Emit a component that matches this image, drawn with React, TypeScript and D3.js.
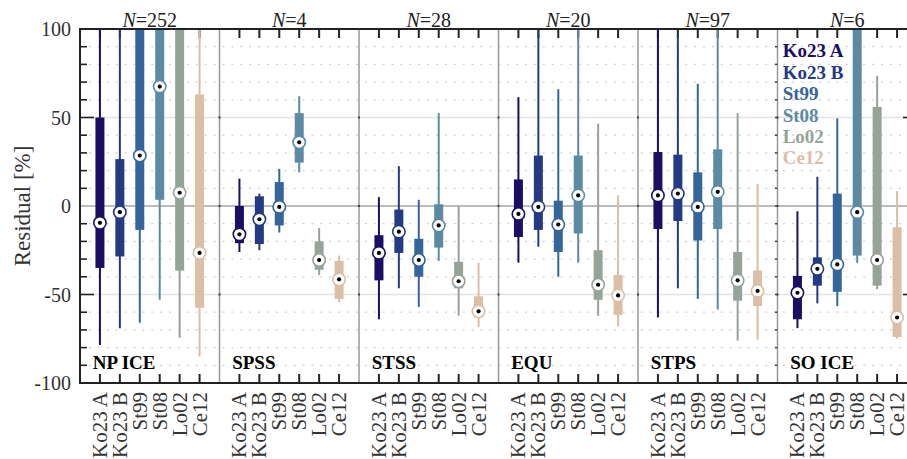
import React from "react";
import * as d3 from "d3";

// Regions (panels) and sample counts
const regions = ["NP ICE", "SPSS", "STSS", "EQU", "STPS", "SO ICE"];
const regionN = [252, 4, 28, 20, 97, 6];

// Model / parameterisation names and colours
const models = ["Ko23 A", "Ko23 B", "St99", "St08", "Lo02", "Ce12"];
const modelColors = ["#1b0f64", "#243a84", "#34669c", "#5b8ba3", "#95a399", "#dbbea6"];

// Residual statistics per model: [whisker low, q1, median, q3, whisker high] (%)
const npIce = [
  [-78.5, -35, -9.5, 50, 140],
  [-69, -28.5, -3.5, 26.5, 130],
  [-66, -13.5, 28.5, 115, 180],
  [-53, 3.5, 67.5, 125, 190],
  [-74.5, -36.5, 7.5, 110, 170],
  [-85, -57.5, -26.5, 63, 100],
];
const spss = [
  [-26, -21, -16, 0, 15.5],
  [-25, -21.5, -7.5, 5.5, 7],
  [-15, -11, -0.5, 13.5, 21],
  [19, 24.5, 36, 52.5, 62],
  [-39, -36, -30.5, -20, -12.5],
  [-54.5, -52.5, -41.5, -31, -28],
];
const stss = [
  [-64, -42, -26.5, -16.5, 5],
  [-46.5, -26.5, -14.5, -2, 22.5],
  [-57, -40, -30.5, -18.5, 3.5],
  [-31, -23.5, -11, 1, 52.5],
  [-62, -46.5, -42.5, -31.5, 0],
  [-68.5, -63, -59.5, -51, -32],
];
const equ = [
  [-32, -17.5, -4.5, 15, 61.5],
  [-23, -13.5, -0.5, 28.5, 130],
  [-40, -26, -10.5, 3, 66],
  [-32, -15.5, 6, 28.5, 140],
  [-62, -53, -44.5, -25, 46.5],
  [-68, -61.5, -50.5, -39, 6],
];
const stps = [
  [-63, -13, 6, 30.5, 150],
  [-46.5, -8.5, 7, 29, 97.5],
  [-52.5, -19.5, -0.5, 19, 69],
  [-58.5, -13, 8, 32, 140],
  [-76, -53.5, -42, -26, 52.5],
  [-75.5, -56.5, -48, -36.5, 12.5],
];
const soIce = [
  [-69, -64, -49, -39.5, -3],
  [-55, -45, -35.5, -29, 16.5],
  [-56.5, -48.5, -33, 7, 49.5],
  [-32, -28, -3.5, 120, 180],
  [-47, -45, -30.5, 56, 73.5],
  [-75, -74, -63, -12, 8.5],
];
const regionStats = [npIce, spss, stss, equ, stps, soIce];

const yMajorTicks = [100, 50, 0, -50, -100];

const W = 907;
const H = 459;
const left = 80;
const right = 917;
const top = 29;
const bottom = 383;
const slots = 7; // 6 models + 1 spacer slot per panel

const serif = "'Liberation Serif', 'Times New Roman', Times, serif";

export default function App() {
  const x = d3.scaleLinear().domain([0, regions.length * slots]).range([left, right]);
  const y = d3.scaleLinear().domain([-100, 100]).range([bottom, top]);
  const minorTicks = d3.range(-90, 100, 10).filter((v) => v % 50 !== 0);
  const allMinor = d3.range(-100, 101, 10);
  const dividers = d3.range(1, regions.length).map((i) => x(i * slots));
  const catX = (p: number, j: number) => x(p * slots + j + 1);

  return (
    <svg
      width={W}
      height={H}
      style={{ position: "absolute", left: 0, top: 0, background: "#fff" }}
      fontFamily={serif}
    >
      <defs>
        <clipPath id="plot-clip">
          <rect x={left} y={top} width={right - left} height={bottom - top} />
        </clipPath>
      </defs>

      {/* grid */}
      {minorTicks.map((v) => (
        <line
          key={"mg" + v}
          x1={left}
          x2={right}
          y1={y(v)}
          y2={y(v)}
          stroke="#cfcfcf"
          strokeWidth={1.3}
          strokeDasharray="2 6.9"
        />
      ))}
      {[50, -50].map((v) => (
        <line key={"Mg" + v} x1={left} x2={right} y1={y(v)} y2={y(v)} stroke="#e4e4e4" strokeWidth={1.5} />
      ))}
      <line x1={left} x2={right} y1={y(0)} y2={y(0)} stroke="#bcbcbc" strokeWidth={2} />

      {/* panel dividers */}
      {dividers.map((dx, i) => (
        <g key={"dv" + i}>
          <line x1={dx} x2={dx} y1={top} y2={bottom} stroke="#999" strokeWidth={1.5} />
          {[50, 0, -50].map((v) => (
            <rect key={v} x={dx - 1} y={y(v) - 1} width={2} height={2} fill="#444" />
          ))}
          {i === dividers.length - 1 &&
            allMinor
              .filter((v) => Math.abs(v) !== 100)
              .map((v) => <line key={"t" + v} x1={dx - 2.5} x2={dx} y1={y(v)} y2={y(v)} stroke="#444" strokeWidth={1.5} />)}
        </g>
      ))}

      {/* top and bottom category ticks */}
      {regions.map((_, p) =>
        models.map((_, j) => (
          <g key={`ct${p}-${j}`}>
            <line x1={catX(p, j)} x2={catX(p, j)} y1={top} y2={top + 9} stroke="#222" strokeWidth={2} />
            <line x1={catX(p, j)} x2={catX(p, j)} y1={bottom} y2={bottom - 9} stroke="#222" strokeWidth={2} />
          </g>
        ))
      )}

      {/* left and right axis ticks */}
      {allMinor.map((v) => {
        const len = v % 50 === 0 ? 14 : 7;
        if (v === 0) return null;
        return (
          <g key={"yt" + v}>
            <line x1={left} x2={left + len} y1={y(v)} y2={y(v)} stroke="#222" strokeWidth={1.6} />
            <line x1={right} x2={right - len} y1={y(v)} y2={y(v)} stroke="#222" strokeWidth={1.6} />
          </g>
        );
      })}

      {/* box plots */}
      <g clipPath="url(#plot-clip)">
        {regionStats.map((stats, p) =>
          stats.map((s, j) => {
            const [lo, q1, med, q3, hi] = s;
            const cx = catX(p, j);
            const c = modelColors[j];
            return (
              <g key={`bx${p}-${j}`}>
                <line x1={cx} x2={cx} y1={y(lo)} y2={y(hi)} stroke={c} strokeWidth={2} />
                <rect x={cx - 4.5} width={9} y={y(q3)} height={y(q1) - y(q3)} fill={c} />
                <circle cx={cx} cy={y(med)} r={6.2} fill="#fff" stroke={c} strokeWidth={1.6} />
                <circle cx={cx} cy={y(med)} r={2.1} fill="#000" />
              </g>
            );
          })
        )}
      </g>

      {/* frame */}
      <line x1={left} x2={left} y1={top - 1} y2={bottom + 1} stroke="#222" strokeWidth={2} />
      <line x1={right} x2={right} y1={top - 1} y2={bottom + 1} stroke="#222" strokeWidth={2} />
      <line x1={left - 1} x2={right + 1} y1={top} y2={top} stroke="#222" strokeWidth={2} />
      <line x1={left - 1} x2={right + 1} y1={bottom} y2={bottom} stroke="#222" strokeWidth={2} />

      {/* y tick labels */}
      {yMajorTicks.map((v) => (
        <text key={"yl" + v} x={71} y={y(v)} dy="0.35em" textAnchor="end" fontSize={20} fill="#333">
          {v}
        </text>
      ))}
      <text
        transform={`translate(29.5, ${y(0)}) rotate(-90)`}
        textAnchor="middle"
        fontSize={23}
        fill="#333"
      >
        Residual [%]
      </text>

      {/* N labels */}
      {regions.map((_, p) => (
        <text key={"n" + p} x={x(p * slots + slots / 2)} y={27} textAnchor="middle" fontSize={20} fill="#222">
          <tspan fontStyle="italic">N</tspan>={regionN[p]}
        </text>
      ))}

      {/* region labels */}
      {regions.map((r, p) => (
        <text key={"r" + p} x={x(p * slots) + 12.7} y={369} fontSize={19} fontWeight="bold" fill="#000">
          {r}
        </text>
      ))}

      {/* category labels */}
      {regions.map((_, p) =>
        models.map((m, j) => (
          <text
            key={`cl${p}-${j}`}
            transform={`translate(${catX(p, j)}, 392) rotate(-90)`}
            dy="0.33em"
            textAnchor="end"
            fontSize={21}
            fill="#333"
          >
            {m}
          </text>
        ))
      )}

      {/* legend */}
      {models.map((m, j) => (
        <text key={"lg" + j} x={782.7} y={57.3 + j * 21.4} fontSize={19} fontWeight="bold" fill={modelColors[j]}>
          {m}
        </text>
      ))}
    </svg>
  );
}
